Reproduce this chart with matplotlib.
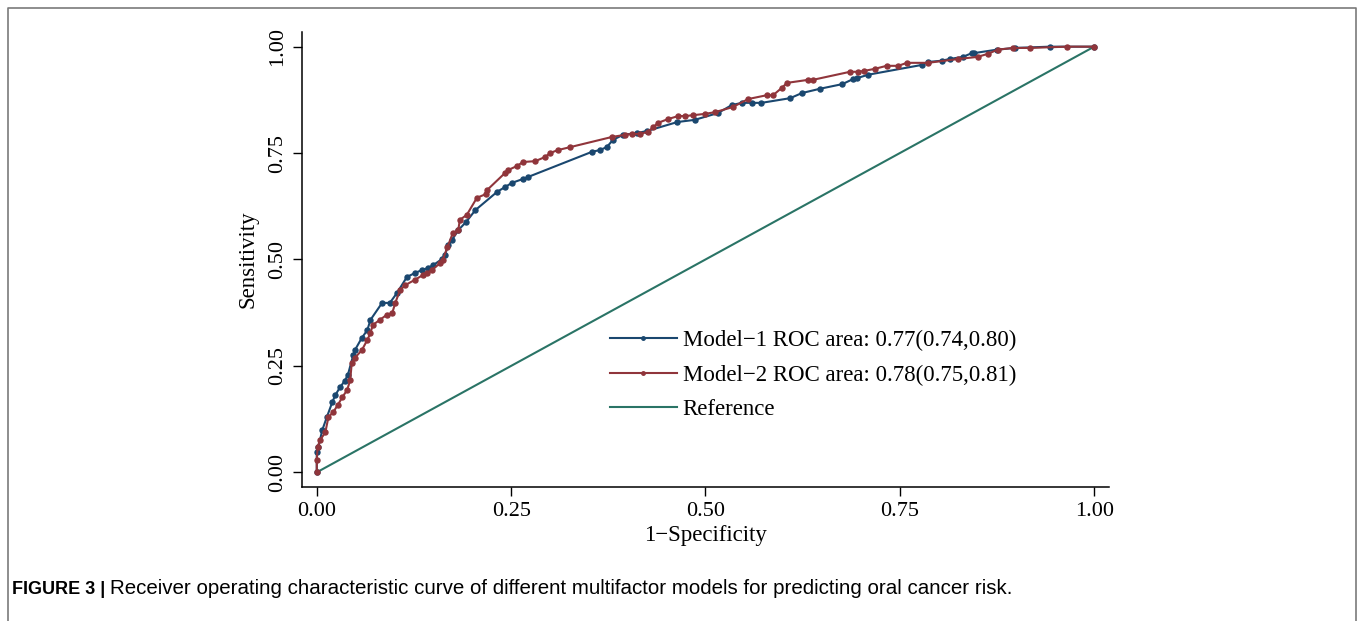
import matplotlib
matplotlib.use("Agg")
import matplotlib.pyplot as plt
from matplotlib.lines import Line2D

# ROC points (1-specificity, sensitivity)
fpr_m1 = [0.0, 0.0, 0.002, 0.007, 0.013, 0.020, 0.024, 0.030, 0.036, 0.040,
          0.047, 0.049, 0.058, 0.065, 0.069, 0.084, 0.094, 0.103, 0.116, 0.126,
          0.135, 0.143, 0.150, 0.161, 0.165, 0.169, 0.174, 0.182, 0.192, 0.204,
          0.232, 0.242, 0.251, 0.265, 0.272, 0.354, 0.364, 0.373, 0.381, 0.394,
          0.412, 0.425, 0.464, 0.486, 0.516, 0.534, 0.547, 0.560, 0.572, 0.609,
          0.624, 0.647, 0.676, 0.690, 0.695, 0.709, 0.778, 0.786, 0.804, 0.814,
          0.831, 0.843, 0.846, 0.875, 0.898, 0.943, 1.0]
tpr_m1 = [0.0, 0.048, 0.059, 0.099, 0.130, 0.165, 0.182, 0.200, 0.215, 0.229,
          0.276, 0.287, 0.316, 0.334, 0.358, 0.398, 0.398, 0.421, 0.459, 0.468,
          0.475, 0.480, 0.487, 0.501, 0.511, 0.534, 0.546, 0.569, 0.588, 0.616,
          0.659, 0.670, 0.680, 0.689, 0.694, 0.753, 0.757, 0.764, 0.781, 0.793,
          0.797, 0.802, 0.823, 0.828, 0.844, 0.863, 0.868, 0.868, 0.868, 0.879,
          0.891, 0.901, 0.912, 0.924, 0.926, 0.934, 0.957, 0.964, 0.967, 0.971,
          0.976, 0.985, 0.985, 0.993, 0.997, 1.0, 1.0]

fpr_m2 = [0.0, 0.0, 0.001, 0.004, 0.011, 0.015, 0.021, 0.027, 0.033, 0.039,
          0.043, 0.045, 0.049, 0.058, 0.065, 0.069, 0.072, 0.081, 0.090, 0.097,
          0.101, 0.107, 0.114, 0.126, 0.137, 0.142, 0.148, 0.159, 0.162, 0.168,
          0.175, 0.182, 0.184, 0.193, 0.206, 0.218, 0.219, 0.242, 0.246, 0.258,
          0.265, 0.281, 0.294, 0.300, 0.310, 0.326, 0.380, 0.397, 0.406, 0.416,
          0.426, 0.433, 0.439, 0.452, 0.465, 0.474, 0.484, 0.499, 0.512, 0.535,
          0.555, 0.579, 0.587, 0.598, 0.605, 0.632, 0.638, 0.686, 0.696, 0.704,
          0.718, 0.733, 0.748, 0.759, 0.786, 0.825, 0.850, 0.863, 0.876, 0.896,
          0.917, 0.965, 1.0]
tpr_m2 = [0.0, 0.029, 0.059, 0.075, 0.094, 0.130, 0.141, 0.158, 0.177, 0.193,
          0.217, 0.257, 0.269, 0.287, 0.311, 0.327, 0.346, 0.358, 0.370, 0.374,
          0.398, 0.428, 0.440, 0.452, 0.464, 0.468, 0.475, 0.492, 0.499, 0.529,
          0.562, 0.569, 0.593, 0.605, 0.645, 0.654, 0.663, 0.703, 0.710, 0.720,
          0.729, 0.731, 0.741, 0.750, 0.757, 0.764, 0.788, 0.793, 0.795, 0.795,
          0.800, 0.811, 0.821, 0.830, 0.837, 0.837, 0.839, 0.842, 0.846, 0.858,
          0.877, 0.886, 0.886, 0.903, 0.915, 0.922, 0.922, 0.941, 0.941, 0.943,
          0.948, 0.955, 0.955, 0.962, 0.962, 0.971, 0.976, 0.983, 0.993, 0.997,
          0.997, 1.0, 1.0]

ref_x = [0.0, 1.0]
ref_y = [0.0, 1.0]

ticks = [0.0, 0.25, 0.5, 0.75, 1.0]
tick_labels = ["0.00", "0.25", "0.50", "0.75", "1.00"]

labels = ["Model\u22121 ROC area: 0.77(0.74,0.80)",
          "Model\u22122 ROC area: 0.78(0.75,0.81)",
          "Reference"]
caption_bold = "FIGURE 3 |"
caption_text = ("Receiver operating characteristic curve of different multifactor "
                "models for predicting oral cancer risk.")

navy = "#1a476f"
maroon = "#90353b"
teal = "#2a7466"

plt.rcParams["font.family"] = ["Liberation Serif", "DejaVu Serif"]

fig = plt.figure(figsize=(13.58, 6.21), dpi=100)
ax = fig.add_axes([0.2224, 0.2158, 0.5942, 0.7327])

ax.plot(fpr_m1, tpr_m1, color=navy, lw=1.5, marker="o", ms=3.6, zorder=3)
ax.plot(fpr_m2, tpr_m2, color=maroon, lw=1.5, marker="o", ms=3.6, zorder=4)
ax.plot(ref_x, ref_y, color=teal, lw=1.5, zorder=2)

ax.set_xlim(-0.019, 1.019)
ax.set_ylim(-0.0345, 1.0345)
ax.set_xticks(ticks)
ax.set_xticklabels(tick_labels)
ax.set_yticks(ticks)
ax.set_yticklabels(tick_labels, rotation=90, va="center")
ax.tick_params(axis="both", direction="out", length=6.5, width=1.0,
               labelsize=16, pad=4)
for side in ["top", "right"]:
    ax.spines[side].set_visible(False)
for side in ["left", "bottom"]:
    ax.spines[side].set_linewidth(1.1)

ax.set_xlabel("1\u2212Specificity", fontsize=16.5, labelpad=3)
ax.set_ylabel("Sensitivity", fontsize=16.5, labelpad=7)

handles = [Line2D([], [], color=navy, lw=1.5, marker="o", ms=2.5),
           Line2D([], [], color=maroon, lw=1.5, marker="o", ms=2.5),
           Line2D([], [], color=teal, lw=1.5)]
ax.legend(handles, labels, loc="center left", bbox_to_anchor=(0.382, 0.246),
          frameon=False, fontsize=16.5, handlelength=2.9, handletextpad=0.26,
          labelspacing=0.6, borderpad=0, borderaxespad=0)

# outer frame (left, top, right edges)
W, H = 1358, 621
fig.add_artist(Line2D([8 / W, 8 / W, 1356 / W, 1356 / W],
                      [0, 1 - 8 / H, 1 - 8 / H, 0],
                      transform=fig.transFigure, color="#7a7a7a", lw=1.2))

# caption: bold lead-in, then plain text on the same baseline
base_y = 1 - 594 / H
bold = fig.text(12 / W, base_y, caption_bold, fontsize=13, fontweight="bold",
                family=["Liberation Sans", "DejaVu Sans"], va="baseline", ha="left")
fig.canvas.draw()
bold_end = bold.get_window_extent().x1 / W
fig.text(bold_end + 5 / W, base_y, caption_text, fontsize=14.8,
         family=["Liberation Sans", "DejaVu Sans"], va="baseline", ha="left")

fig.savefig("out.png", dpi=100)
